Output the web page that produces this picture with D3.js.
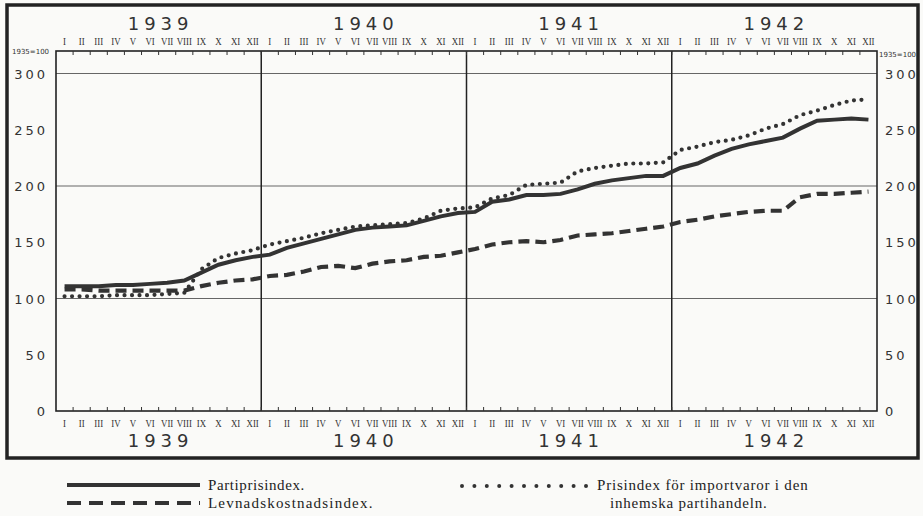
<!DOCTYPE html>
<html>
<head>
<meta charset="utf-8">
<script src="https://cdnjs.cloudflare.com/ajax/libs/d3/7.8.5/d3.min.js"></script>
<style>
  body { margin: 0; background: #fafaf8; }
  svg { display: block; }
  .num { font-family: "DejaVu Sans", sans-serif; fill: #333; }
  .rom { font-family: "Liberation Serif", serif; fill: #333; }
  .leg { font-family: "Liberation Serif", serif; fill: #222; font-size: 15px; }
</style>
</head>
<body>
<svg width="923" height="516"></svg>
<script>
// data, monthly 1939-1942, 1935 = 100
var years = ["1939", "1940", "1941", "1942"];
var months = ["I", "II", "III", "IV", "V", "VI", "VII", "VIII", "IX", "X", "XI", "XII"];
var yTicks = [0, 50, 100, 150, 200, 250, 300];
var gridValues = [100, 200, 300];

var partipris = [
    111, 111, 111, 112, 112, 113, 114, 116, 123, 130, 134, 137,
    139, 145, 149, 153, 157, 161, 163, 164, 165, 169, 173, 176,
    177, 186, 188, 192, 192, 193, 197, 202, 205, 207, 209, 209,
    216, 220, 227, 233, 237, 240, 243, 251, 258, 259, 260, 259
];
var levnad = [
    108, 108, 107, 107, 107, 107, 107, 107, 111, 114, 116, 117,
    120, 121, 124, 128, 129, 127, 131, 133, 134, 137, 138, 141,
    144, 148, 150, 151, 150, 152, 156, 157, 158, 160, 162, 164,
    168, 170, 173, 175, 177, 178, 178, 190, 193, 193, 194, 195
];
var importvaror = [
    102, 102, 102, 103, 103, 103, 104, 105, 126, 136, 140, 143,
    148, 151, 154, 158, 161, 164, 165, 166, 167, 171, 178, 180,
    181, 189, 192, 201, 202, 203, 213, 216, 218, 220, 220, 221,
    232, 235, 239, 241, 245, 251, 255, 263, 267, 272, 276, 277
];

var svg = d3.select("svg");
var pLeft = 56, pRight = 877, pTop = 51, pBottom = 411;

var x = d3.scaleLinear().domain([0, 48]).range([pLeft, pRight]);
var y = d3.scaleLinear().domain([0, 320]).range([pBottom, pTop]);

// outer frame
svg.append("rect")
    .attr("x", 7).attr("y", 5).attr("width", 911).attr("height", 453)
    .attr("fill", "none").attr("stroke", "#222").attr("stroke-width", 3.5);

// gridlines
svg.selectAll(".grid").data(gridValues).enter().append("line")
    .attr("x1", pLeft).attr("x2", pRight)
    .attr("y1", function(d) { return y(d); }).attr("y2", function(d) { return y(d); })
    .attr("stroke", "#666").attr("stroke-width", 1);

// year separators
svg.selectAll(".sep").data([12, 24, 36]).enter().append("line")
    .attr("x1", function(d) { return x(d); }).attr("x2", function(d) { return x(d); })
    .attr("y1", pTop).attr("y2", pBottom)
    .attr("stroke", "#222").attr("stroke-width", 1.5);

// plot border
svg.append("rect")
    .attr("x", pLeft).attr("y", pTop).attr("width", pRight - pLeft).attr("height", pBottom - pTop)
    .attr("fill", "none").attr("stroke", "#222").attr("stroke-width", 1.6);

// month ticks top and bottom
var tickIdx = d3.range(1, 48);
svg.selectAll(".tt").data(tickIdx).enter().append("line")
    .attr("x1", function(d) { return x(d); }).attr("x2", function(d) { return x(d); })
    .attr("y1", pTop).attr("y2", pTop + 4)
    .attr("stroke", "#333").attr("stroke-width", 1);
svg.selectAll(".tb").data(tickIdx).enter().append("line")
    .attr("x1", function(d) { return x(d); }).attr("x2", function(d) { return x(d); })
    .attr("y1", pBottom).attr("y2", pBottom - 4)
    .attr("stroke", "#333").attr("stroke-width", 1);

// y labels both sides
svg.selectAll(".yl").data(yTicks).enter().append("text")
    .attr("class", "num")
    .attr("x", 48).attr("y", function(d) { return y(d) + 5; })
    .attr("text-anchor", "end").attr("font-size", 13).attr("letter-spacing", 3)
    .text(function(d) { return d; });
svg.selectAll(".yr").data(yTicks).enter().append("text")
    .attr("class", "num")
    .attr("x", 885).attr("y", function(d) { return y(d) + 5; })
    .attr("font-size", 13).attr("letter-spacing", 3)
    .text(function(d) { return d; });

svg.append("text").attr("class", "num").attr("x", 12).attr("y", 54)
    .attr("font-size", 7).text("1935=100");
svg.append("text").attr("class", "num").attr("x", 879).attr("y", 57)
    .attr("font-size", 7).text("1935=100");

// month and year labels
var allMonths = d3.range(48);
[[45, 30], [427, 447]].forEach(function(pos) {
    svg.selectAll(null).data(allMonths).enter().append("text")
        .attr("class", "rom")
        .attr("x", function(d) { return x(d + 0.5); })
        .attr("y", pos[0])
        .attr("text-anchor", "middle").attr("font-size", 11)
        .attr("transform", function(d) {
            var cx = x(d + 0.5);
            return "translate(" + cx + ",0) scale(0.8,1) translate(" + (-cx) + ",0)";
        })
        .text(function(d) { return months[d % 12]; });
    svg.selectAll(null).data(years).enter().append("text")
        .attr("class", "num")
        .attr("x", function(d, i) { return x(i * 12 + 6) + 2; })
        .attr("y", pos[1])
        .attr("text-anchor", "middle").attr("font-size", 18).attr("letter-spacing", 5)
        .text(function(d) { return d; });
});

// series
var line = d3.line()
    .x(function(d, i) { return x(i + 0.5); })
    .y(function(d) { return y(d); });

svg.append("path").datum(levnad)
    .attr("d", line).attr("fill", "none")
    .attr("stroke", "#333").attr("stroke-width", 4.2)
    .attr("stroke-dasharray", "11,6");
svg.append("path").datum(importvaror)
    .attr("d", line).attr("fill", "none")
    .attr("stroke", "#333").attr("stroke-width", 4.2)
    .attr("stroke-linecap", "round")
    .attr("stroke-dasharray", "0,7.5");
svg.append("path").datum(partipris)
    .attr("d", line).attr("fill", "none")
    .attr("stroke", "#333").attr("stroke-width", 4);

// legend
svg.append("line").attr("x1", 67).attr("x2", 200).attr("y1", 485).attr("y2", 485)
    .attr("stroke", "#333").attr("stroke-width", 4);
svg.append("line").attr("x1", 67).attr("x2", 200).attr("y1", 503).attr("y2", 503)
    .attr("stroke", "#333").attr("stroke-width", 4).attr("stroke-dasharray", "14,8");
svg.append("line").attr("x1", 462).attr("x2", 586).attr("y1", 486).attr("y2", 486)
    .attr("stroke", "#333").attr("stroke-width", 4)
    .attr("stroke-linecap", "round").attr("stroke-dasharray", "0,12.4");

svg.append("text").attr("class", "leg").attr("x", 208).attr("y", 490)
    .attr("letter-spacing", 0.6).text("Partiprisindex.");
svg.append("text").attr("class", "leg").attr("x", 208).attr("y", 508)
    .attr("letter-spacing", 1.2).text("Levnadskostnadsindex.");
svg.append("text").attr("class", "leg").attr("x", 597).attr("y", 490)
    .attr("letter-spacing", 0.8).text("Prisindex för importvaror i den");
svg.append("text").attr("class", "leg").attr("x", 610).attr("y", 508)
    .attr("letter-spacing", 0.8).text("inhemska partihandeln.");
</script>
</body>
</html>
